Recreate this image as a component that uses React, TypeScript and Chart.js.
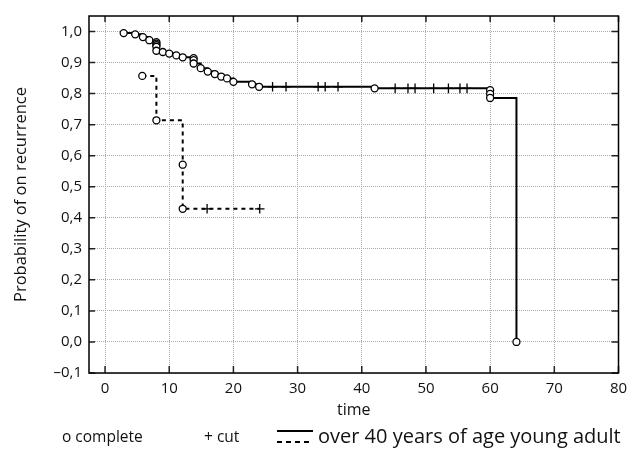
import React, { useEffect, useRef } from "react";
import { Chart, registerables } from "chart.js";
Chart.register(...registerables);

// over 40 years of age (solid line)
const over40Times = [2.9, 4.7, 5.9, 6.9, 8.0, 8.0, 8.0, 8.0, 8.0, 9.0, 10.0, 11.1, 12.1, 13.8, 13.8, 13.8, 14.9, 16.0, 17.1, 18.1, 19.0, 20.0, 22.9, 24.0, 26.1, 28.2, 33.2, 34.3, 36.3, 42.0, 45.2, 47.2, 48.3, 51.2, 53.5, 55.3, 56.4, 60.0, 60.0, 60.0, 64.1];
const over40Surv = [0.995, 0.991, 0.982, 0.972, 0.966, 0.961, 0.956, 0.951, 0.938, 0.934, 0.929, 0.923, 0.917, 0.914, 0.908, 0.897, 0.882, 0.871, 0.863, 0.855, 0.849, 0.838, 0.830, 0.822, 0.822, 0.822, 0.822, 0.822, 0.822, 0.817, 0.817, 0.817, 0.817, 0.817, 0.817, 0.817, 0.817, 0.811, 0.799, 0.786, 0.0];
const over40Kind = ["c", "c", "c", "c", "c", "c", "c", "c", "c", "c", "c", "c", "c", "c", "c", "c", "c", "c", "c", "c", "c", "c", "c", "c", "x", "x", "x", "x", "x", "c", "x", "x", "x", "x", "x", "x", "x", "c", "c", "c", "c"];

// young adult (dashed line)
const youngTimes = [5.8, 8.0, 12.1, 12.1, 15.9, 24.1];
const youngSurv = [0.857, 0.714, 0.571, 0.429, 0.429, 0.429];
const youngKind = ["c", "c", "c", "c", "x", "x"];

const xTickValues = [0, 10, 20, 30, 40, 50, 60, 70, 80];
const yTickValues = [-0.1, 0, 0.1, 0.2, 0.3, 0.4, 0.5, 0.6, 0.7, 0.8, 0.9, 1.0];

const FONT = "'Open Sans', sans-serif";

const framePlugin = {
  id: "frame",
  beforeDatasetsDraw(chart: any) {
    const { ctx, chartArea: a, scales } = chart;
    ctx.save();
    ctx.strokeStyle = "#222";
    ctx.lineWidth = 1.5;
    ctx.beginPath();
    for (const v of yTickValues) {
      const y = scales.y.getPixelForValue(v);
      ctx.moveTo(a.left, y);
      ctx.lineTo(a.left + 6, y);
      ctx.moveTo(a.right - 7, y);
      ctx.lineTo(a.right, y);
    }
    for (const v of xTickValues) {
      const x = scales.x.getPixelForValue(v);
      ctx.moveTo(x, a.bottom);
      ctx.lineTo(x, a.bottom - 7);
      ctx.moveTo(x, a.top);
      ctx.lineTo(x, a.top + 6);
    }
    ctx.stroke();
    ctx.strokeStyle = "#000";
    ctx.lineWidth = 1.5;
    ctx.strokeRect(a.left, a.top, a.right - a.left, a.bottom - a.top);
    ctx.restore();
  },
};

function fmt(v: number) {
  const s = Math.abs(v).toFixed(1).replace(".", ",");
  return v < -1e-9 ? "\u2013" + s : s;
}

export default function App() {
  const ref = useRef<HTMLCanvasElement | null>(null);
  useEffect(() => {
    if (!ref.current) return;
    const mk = (times: number[], surv: number[]) => times.map((t, i) => ({ x: t, y: surv[i] }));
    const styleFor = (kinds: string[]) => (c: any) => (kinds[c.dataIndex] === "c" ? "circle" : "cross");
    const chart = new Chart(ref.current, {
      type: "line",
      data: {
        datasets: [
          {
            label: "over 40 years of age",
            data: mk(over40Times, over40Surv),
            stepped: "before",
            borderColor: "#000",
            borderWidth: 2,
            pointStyle: styleFor(over40Kind) as any,
            pointRadius: (c: any) => (over40Kind[c.dataIndex] === "c" ? 3.5 : 4.8),
            pointBackgroundColor: "#fff",
            pointBorderColor: "#000",
            pointBorderWidth: 1.3,
            fill: false,
          },
          {
            label: "young adult",
            data: mk(youngTimes, youngSurv),
            stepped: "before",
            borderColor: "#000",
            borderWidth: 2,
            borderDash: [4, 4],
            pointStyle: styleFor(youngKind) as any,
            pointRadius: (c: any) => (youngKind[c.dataIndex] === "c" ? 3.5 : 4.8),
            pointBackgroundColor: "#fff",
            pointBorderColor: "#000",
            pointBorderWidth: 1.3,
            fill: false,
          },
        ],
      },
      options: {
        animation: false,
        responsive: true,
        maintainAspectRatio: false,
        layout: { padding: { left: 0, top: 7, right: 19.5, bottom: 0 } },
        plugins: { legend: { display: false }, tooltip: { enabled: false } },
        scales: {
          x: {
            type: "linear",
            min: -2.5,
            max: 80,
            afterBuildTicks: (s: any) => {
              s.ticks = xTickValues.map((v) => ({ value: v }));
            },
            afterFit: (s: any) => {
              s.height = 84;
            },
            grid: { color: "#ababab", lineWidth: 1, drawTicks: false },
            border: { display: false, dash: [1, 1] },
            ticks: { color: "#111", font: { family: FONT, size: 15 }, padding: 7, maxRotation: 0, autoSkip: false },
            title: { display: true, text: "time", color: "#111", font: { family: FONT, size: 16 }, padding: { top: 0, bottom: 37 } },
          },
          y: {
            type: "linear",
            min: -0.1,
            max: 1.05,
            afterBuildTicks: (s: any) => {
              s.ticks = yTickValues.map((v) => ({ value: v }));
            },
            afterFit: (s: any) => {
              s.width = 89;
            },
            grid: { color: "#ababab", lineWidth: 1, drawTicks: false },
            border: { display: false, dash: [1, 1] },
            ticks: { color: "#111", font: { family: FONT, size: 15 }, padding: 7, callback: (v: any) => fmt(Number(v)) },
            title: { display: true, text: "Probability of on recurrence", color: "#111", font: { family: FONT, size: 16.5 }, padding: { top: 11, bottom: 0 } },
          },
        },
      },
      plugins: [framePlugin],
    });
    return () => chart.destroy();
  }, []);

  const txt: React.CSSProperties = { position: "absolute", fontFamily: FONT, fontSize: 15.5, color: "#111", lineHeight: "20px", whiteSpace: "nowrap" };
  return (
    <div style={{ position: "fixed", left: 0, top: 0, width: 638, height: 457, background: "#fff" }}>
      <div style={{ position: "relative", width: 638, height: 457 }}>
        <canvas ref={ref} />
        <span style={{ ...txt, left: 62, top: 426 }}>o complete</span>
        <span style={{ ...txt, left: 204, top: 426 }}>+ cut</span>
        <div style={{ position: "absolute", left: 277, top: 430, width: 36, height: 2, background: "#000" }} />
        <div style={{ position: "absolute", left: 277, top: 441, width: 36, height: 2, background: "repeating-linear-gradient(to right, #000 0 5px, transparent 5px 9px)" }} />
        <span style={{ ...txt, left: 318, top: 424, fontSize: 20, lineHeight: "24px" }}>over 40 years of age young adult</span>
      </div>
    </div>
  );
}
